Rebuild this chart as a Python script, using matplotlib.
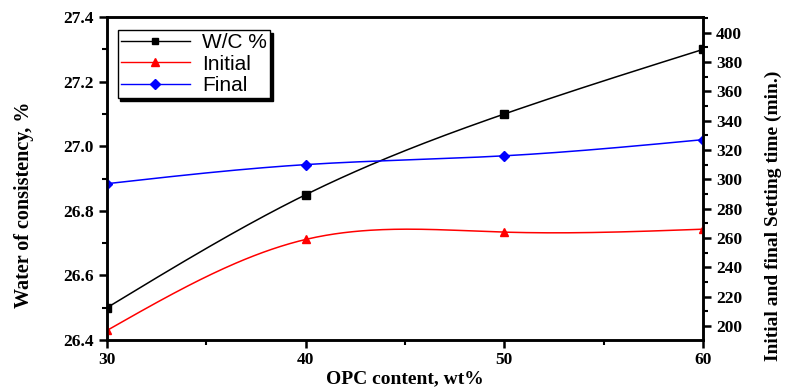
import numpy as np
import matplotlib
matplotlib.use('Agg')
import matplotlib.pyplot as plt
from matplotlib.ticker import MultipleLocator

# data
opc = [30, 40, 50, 60]
wc = [26.50, 26.85, 27.10, 27.30]
initial = [197, 259, 264, 266]
final = [297, 310, 316, 327]


def smooth(x, y, n=200):
    # natural cubic spline through the points (Origin-style smoothed line)
    x = np.asarray(x, float)
    y = np.asarray(y, float)
    k = len(x)
    h = np.diff(x)
    A = np.zeros((k, k))
    b = np.zeros(k)
    A[0, 0] = A[-1, -1] = 1
    for i in range(1, k - 1):
        A[i, i - 1] = h[i - 1]
        A[i, i] = 2 * (h[i - 1] + h[i])
        A[i, i + 1] = h[i]
        b[i] = 6 * ((y[i + 1] - y[i]) / h[i] - (y[i] - y[i - 1]) / h[i - 1])
    m = np.linalg.solve(A, b)
    xs = np.linspace(x[0], x[-1], n)
    idx = np.clip(np.searchsorted(x, xs) - 1, 0, k - 2)
    t0 = xs - x[idx]
    t1 = x[idx + 1] - xs
    hi = h[idx]
    ys = (m[idx] * t1**3 + m[idx + 1] * t0**3) / (6 * hi) \
        + (y[idx] / hi - m[idx] * hi / 6) * t1 \
        + (y[idx + 1] / hi - m[idx + 1] * hi / 6) * t0
    return xs, ys


plt.rcParams['font.family'] = 'Liberation Serif'
plt.rcParams['font.weight'] = 'bold'

fig = plt.figure(figsize=(7.89, 3.89), dpi=100)
ax = fig.add_axes([0.1356, 0.126, 0.7554, 0.830])
ax2 = ax.twinx()

xs, ys = smooth(opc, wc)
ax.plot(xs, ys, color='black', lw=1.1)
ax.plot(opc, wc, color='black', marker='s', ms=5.5, linestyle='none')

xs, ys = smooth(opc, initial)
ax2.plot(xs, ys, color='red', lw=1.1)
ax2.plot(opc, initial, color='red', marker='^', ms=6, linestyle='none')

xs, ys = smooth(opc, final)
ax2.plot(xs, ys, color='blue', lw=1.1)
ax2.plot(opc, final, color='blue', marker='D', ms=5, linestyle='none')

ax.set_xlim(30, 60)
ax.set_ylim(26.4, 27.4)
ax2.set_ylim(190.5, 410.5)

ax.xaxis.set_major_locator(MultipleLocator(10))
ax.xaxis.set_minor_locator(MultipleLocator(5))
ax.yaxis.set_major_locator(MultipleLocator(0.2))
ax.yaxis.set_minor_locator(MultipleLocator(0.1))
ax2.yaxis.set_major_locator(MultipleLocator(20))
ax2.yaxis.set_minor_locator(MultipleLocator(10))
ax.yaxis.set_major_formatter(matplotlib.ticker.FormatStrFormatter('%.1f'))

for a in (ax, ax2):
    for s in a.spines.values():
        s.set_linewidth(1.8)
    a.tick_params(which='major', direction='out', length=6, width=1.8,
                  labelsize=12.5)
    a.tick_params(which='minor', direction='out', length=3.5, width=1.5)
ax.tick_params(axis='x', pad=3)
for lab in ax.get_xticklabels() + ax.get_yticklabels() + ax2.get_yticklabels():
    lab.set_fontweight('bold')

ax.set_xlabel('OPC content, wt%', fontsize=14, fontweight='bold', labelpad=1)
ax.set_ylabel('Water of consistency, %', fontsize=14.5, fontweight='bold')
ax.yaxis.set_label_coords(-0.123, 0.418)
ax2.set_ylabel('Initial and final Setting time (min.)', fontsize=14,
               fontweight='bold')
ax2.yaxis.set_label_coords(1.104, 0.384)

h1 = plt.Line2D([], [], color='black', lw=1, marker='s', ms=5)
h2 = plt.Line2D([], [], color='red', lw=1, marker='^', ms=6)
h3 = plt.Line2D([], [], color='blue', lw=1, marker='D', ms=5)
leg = ax2.legend([h1, h2, h3], ['W/C %', 'Initial', 'Final'],
                 loc='upper left', bbox_to_anchor=(0.018, 0.96),
                 frameon=True, fancybox=False, shadow={'color': 'black', 'alpha': 1},
                 edgecolor='black', framealpha=1, borderpad=0.15,
                 labelspacing=0.12, handlelength=3.3, handletextpad=0.6,
                 borderaxespad=0,
                 prop={'family': 'Liberation Sans', 'size': 15, 'weight': 'normal'})
leg.get_frame().set_linewidth(1)

fig.savefig('out.png', dpi=100)
